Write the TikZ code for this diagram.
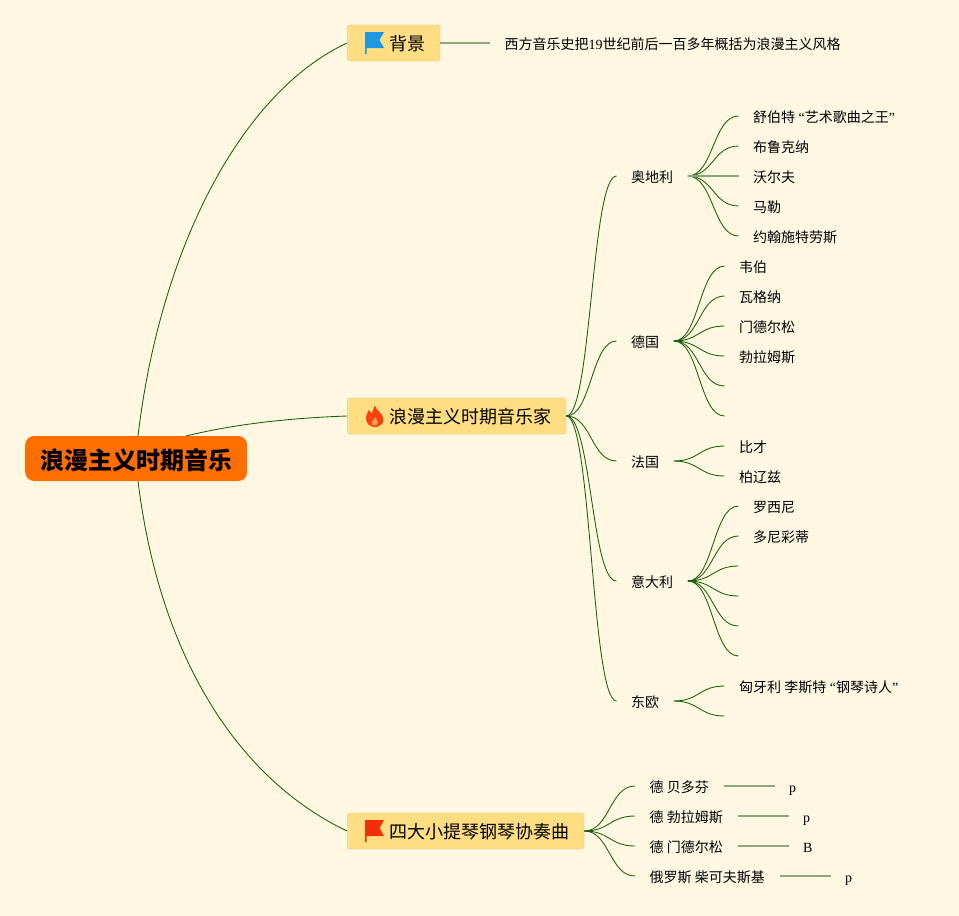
\documentclass[tikz,border=0pt]{standalone}
\usepackage{fontspec}
\setmainfont{Liberation Serif}
\newfontfamily\cjk{Noto Sans CJK SC}
\usetikzlibrary{calc}
\definecolor{bgc}{HTML}{FEF8E3}
\definecolor{rootc}{HTML}{FF6F00}
\definecolor{boxc}{HTML}{FFDD82}
\definecolor{boxb}{HTML}{EBDA9E}
\definecolor{linkc}{HTML}{1B5E08}
\definecolor{straightc}{HTML}{8FA57C}
\definecolor{flagb}{HTML}{1E96E0}
\definecolor{flagr}{HTML}{F22E0C}
\definecolor{firec}{HTML}{F5420F}
\definecolor{firei}{HTML}{FF9A50}
\tikzset{
  x=1pt,y=-1pt,
  conn/.style={draw=linkc,line width=0.85pt},
  straight/.style={draw=straightc,line width=1.7pt},
  rootbox/.style={draw=none,fill=rootc,rounded corners=9pt,minimum width=222pt,minimum height=45pt,inner sep=0pt,text height=25pt,text depth=3pt,font=\fontsize{24}{28}\selectfont\cjk\bfseries,anchor=west},
  topicbox/.style={draw=boxb,fill=boxc,line width=0.8pt,rounded corners=1.5pt,minimum height=36pt,inner xsep=0pt,inner ysep=0pt,text height=17.8pt,text depth=2.2pt,font=\fontsize{18}{22}\selectfont\cjk,anchor=west},
  leaf/.style={inner xsep=14.5pt,inner ysep=0pt,text height=13pt,text depth=1pt,font=\fontsize{14}{16}\selectfont,anchor=west},
}
\newcommand{\cj}[1]{{\cjk #1}}
\newcommand{\lnk}[2]{\draw[conn] (#1) .. controls ($(#1)!.5!(#1-|#2)$) and ($(#2)!.5!(#2-|#1)$) .. (#2);}
\begin{document}
\begin{tikzpicture}
\fill[bgc] (0,0) rectangle (959,916);
\useasboundingbox (0,0) rectangle (959,916);
% root and topics
\node[rootbox] (root) at (25,458.5) {浪漫主义时期音乐};
\node[topicbox] (bg) at (347,43) {\hspace*{42pt}背景\hspace*{14.5pt}};
\node[topicbox] (mus) at (347,416) {\hspace*{42pt}浪漫主义时期音乐家\hspace*{14.5pt}};
\node[topicbox] (con) at (347,831) {\hspace*{42pt}四大小提琴钢琴协奏曲\hspace*{14.5pt}};
\coordinate (rootn) at (138,436);
\coordinate (rootm) at (186,436);
\coordinate (roots) at (138,481);
\draw[conn] (rootn) .. controls (160,250) and (240,93) .. (bg.west);
\draw[conn] (rootm) .. controls (235,424) and (290,418) .. (mus.west);
\draw[conn] (roots) .. controls (160,660) and (240,780) .. (con.west);
% flags and flame
\fill[flagb] (365,32) -- (384,32) -- (379.5,40) -- (384,48) -- (366.5,48) -- (366.5,54) -- (365,54) -- cycle;
\fill[flagr] (365,820) -- (384,820) -- (379.5,828) -- (384,836) -- (366.5,836) -- (366.5,842) -- (365,842) -- cycle;
\fill[firec] (375,405.5) .. controls (376,411) and (383.5,413) .. (383.5,419.5) .. controls (383.5,424) and (379,427) .. (375,427) .. controls (370,427) and (366,423.5) .. (366,418.5) .. controls (366,414.5) and (368,412) .. (369,410) .. controls (370,411.5) and (370.5,412.5) .. (372,413.5) .. controls (373,410.5) and (373.5,408) .. (375,405.5) -- cycle;
\fill[firei] (375.5,417) .. controls (376,419) and (378,420) .. (378,422.5) .. controls (378,424.5) and (376,425.5) .. (374.5,425.5) .. controls (373,425.5) and (371.5,424.5) .. (371.5,422.5) .. controls (371.5,420.5) and (375,419.5) .. (375.5,417) -- cycle;
% background
\node[leaf] (bgt) at (490,43) {\cj{西方音乐史把}19\cj{世纪前后一百多年概括为浪漫主义风格}};
\draw[straight] (bg.east) -- (bgt.west);
% countries
\node[leaf] (at) at (616.5,176) {\cj{奥地利}};
\node[leaf] (de) at (616.5,341) {\cj{德国}};
\node[leaf] (fr) at (616.5,461) {\cj{法国}};
\node[leaf] (it) at (616.5,581) {\cj{意大利}};
\node[leaf] (ee) at (616.5,701) {\cj{东欧}};
\foreach \c in {at,de,fr,it,ee}{\lnk{mus.east}{\c.west}}
% Austria
\node[leaf] (at1) at (738.5,116) {\cj{舒伯特} “\cj{艺术歌曲之王}”};
\node[leaf] (at2) at (738.5,146) {\cj{布鲁克纳}};
\node[leaf] (at3) at (738.5,176) {\cj{沃尔夫}};
\node[leaf] (at4) at (738.5,206) {\cj{马勒}};
\node[leaf] (at5) at (738.5,236) {\cj{约翰施特劳斯}};
\foreach \c in {at1,at2,at4,at5}{\lnk{at.east}{\c.west}}
\draw[straight] (at.east) -- (at3.west);
% Germany
\node[leaf] (de1) at (724.5,266) {\cj{韦伯}};
\node[leaf] (de2) at (724.5,296) {\cj{瓦格纳}};
\node[leaf] (de3) at (724.5,326) {\cj{门德尔松}};
\node[leaf] (de4) at (724.5,356) {\cj{勃拉姆斯}};
\coordinate (de5) at (724.5,386);
\coordinate (de6) at (724.5,416);
\foreach \c in {de1.west,de2.west,de3.west,de4.west,de5,de6}{\lnk{de.east}{\c}}
% France
\node[leaf] (fr1) at (724.5,446) {\cj{比才}};
\node[leaf] (fr2) at (724.5,476) {\cj{柏辽兹}};
\foreach \c in {fr1,fr2}{\lnk{fr.east}{\c.west}}
% Italy
\node[leaf] (it1) at (738.5,506) {\cj{罗西尼}};
\node[leaf] (it2) at (738.5,536) {\cj{多尼彩蒂}};
\coordinate (it3) at (738.5,566);
\coordinate (it4) at (738.5,596);
\coordinate (it5) at (738.5,626);
\coordinate (it6) at (738.5,656);
\foreach \c in {it1.west,it2.west,it3,it4,it5,it6}{\lnk{it.east}{\c}}
% Eastern Europe
\node[leaf] (ee1) at (724.5,686) {\cj{匈牙利 李斯特} “\cj{钢琴诗人}”};
\coordinate (ee2) at (724.5,716);
\lnk{ee.east}{ee1.west}
\lnk{ee.east}{ee2}
% concertos
\node[leaf] (c1) at (635,786) {\cj{德 贝多芬}};
\node[leaf] (c2) at (635,816) {\cj{德 勃拉姆斯}};
\node[leaf] (c3) at (635,846) {\cj{德 门德尔松}};
\node[leaf] (c4) at (635,876) {\cj{俄罗斯 柴可夫斯基}};
\foreach \c in {c1,c2,c3,c4}{\lnk{con.east}{\c.west}}
\node[leaf] (p1) at (774.5,786) {p};
\node[leaf] (p2) at (788.5,816) {p};
\node[leaf] (p3) at (788.5,846) {B};
\node[leaf] (p4) at (830.5,876) {p};
\draw[straight] (c1.east) -- (p1.west);
\draw[straight] (c2.east) -- (p2.west);
\draw[straight] (c3.east) -- (p3.west);
\draw[straight] (c4.east) -- (p4.west);
\end{tikzpicture}
\end{document}
